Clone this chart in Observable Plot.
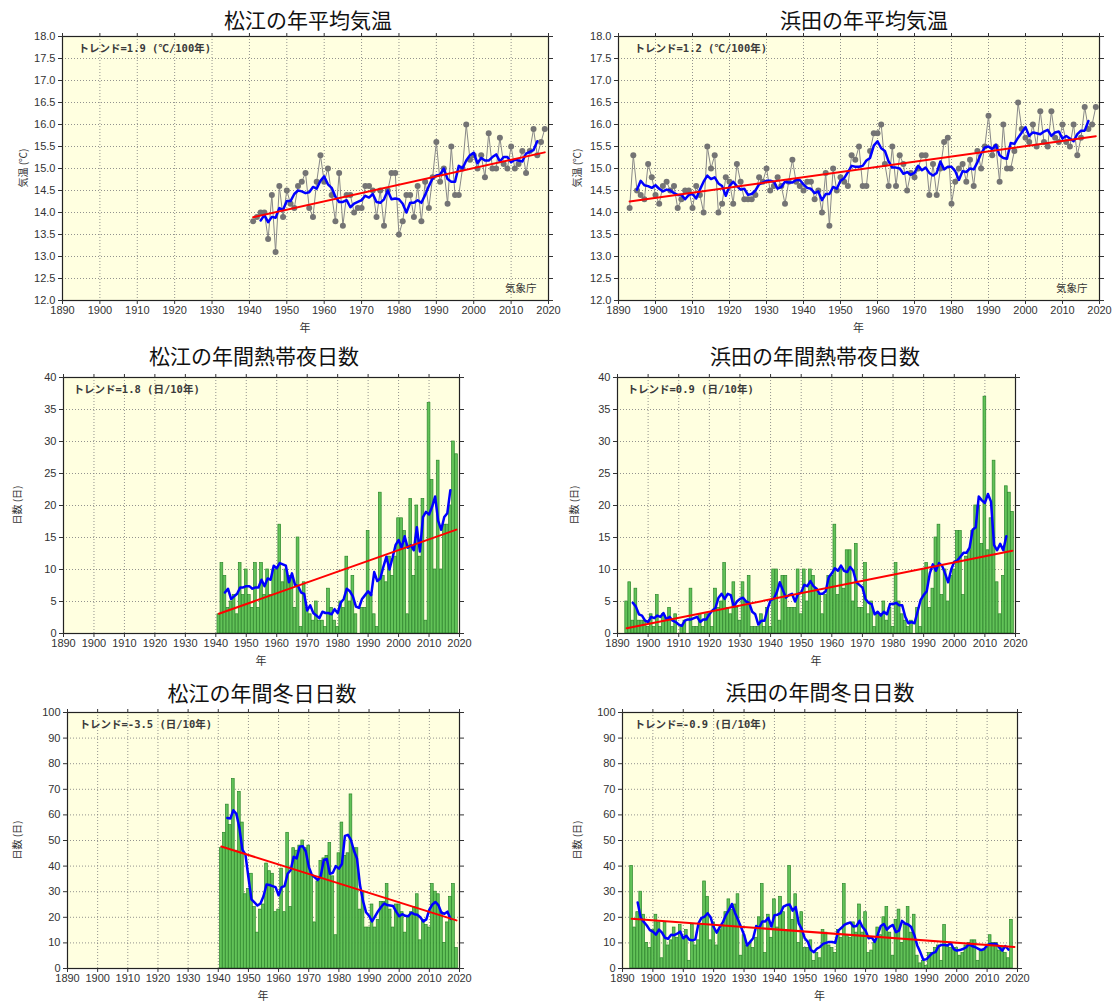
<!DOCTYPE html>
<html><head><meta charset="utf-8">
<script src="https://cdn.jsdelivr.net/npm/d3@7"></script>
<script src="https://cdn.jsdelivr.net/npm/@observablehq/plot@0.6"></script>
<style>
html,body{margin:0;padding:0;background:#fff}
#root{position:relative;width:1113px;height:1005px;overflow:hidden;font-family:"Liberation Sans",Arial,sans-serif}
.title{position:absolute;font-family:"Noto Sans CJK JP",sans-serif;font-size:21px;color:#111;white-space:nowrap;transform:translate(-50%,-50%)}
.xl{position:absolute;font-family:"Noto Sans CJK JP",sans-serif;font-size:11px;color:#333;transform:translate(-50%,-50%)}
.yl{position:absolute;font-family:"Noto Sans CJK JP",sans-serif;font-size:10px;color:#333;white-space:nowrap;transform:translate(-50%,-50%) rotate(-90deg)}
.panel{position:absolute}
</style></head><body><div id="root"></div>
<script>
// ---- axis ticks ----
const xTicks = [1890,1900,1910,1920,1930,1940,1950,1960,1970,1980,1990,2000,2010,2020];
const tempTicks = [12.0,12.5,13.0,13.5,14.0,14.5,15.0,15.5,16.0,16.5,17.0,17.5,18.0];
const nightTicks = [0,5,10,15,20,25,30,35,40];
const winterTicks = [0,10,20,30,40,50,60,70,80,90,100];

// ---- 松江 年平均気温 (1941-2019) ----
const matsueStart = 1941;
const matsueTemp = [
  13.8,13.9,14.0,14.0,13.4,14.4,13.1,14.6,13.9,
  14.5,14.2,14.1,14.6,14.7,14.9,14.1,13.9,14.7,15.3,
  14.7,15.0,14.4,13.8,14.9,13.7,14.4,14.4,14.0,14.1,
  14.1,14.6,14.6,14.5,13.9,14.5,13.7,14.5,14.9,14.9,
  13.5,13.8,14.4,14.4,13.9,14.6,13.8,14.7,14.1,14.8,
  15.6,14.7,15.0,14.2,15.5,14.4,14.4,15.0,16.0,15.2,
  15.3,15.0,15.3,14.8,15.8,15.0,15.0,15.7,15.1,15.0,
  15.5,15.0,15.1,15.4,14.9,15.4,15.9,15.3,15.6,15.9
];
// ---- 浜田 年平均気温 (1893-2019) ----
const hamadaStart = 1893;
const hamadaTemp = [
  14.1,15.3,14.5,14.4,14.3,15.1,14.8,
  14.4,14.2,14.6,14.7,14.5,14.6,14.1,14.3,14.5,14.5,
  14.1,14.6,14.4,14.0,15.5,15.0,15.3,14.0,14.2,14.8,
  14.7,14.2,15.1,14.7,14.3,14.3,14.3,14.4,14.8,14.7,
  15.0,14.5,14.6,14.8,14.6,14.2,14.7,15.2,14.7,14.6,
  14.5,14.7,14.7,14.3,14.5,14.0,14.9,13.7,15.0,14.5,
  14.8,14.7,14.6,15.3,15.2,15.5,14.6,14.6,15.4,15.8,
  15.8,16.0,15.1,14.6,15.5,14.6,15.3,15.1,14.5,14.9,
  14.8,15.0,15.3,15.3,14.4,15.1,14.4,15.0,15.6,15.7,
  14.2,14.7,15.0,15.1,14.7,15.2,14.6,15.4,15.0,15.5,
  16.2,15.3,15.5,14.7,16.0,15.0,15.0,15.4,16.5,15.9,
  15.7,15.6,16.0,15.5,16.3,15.6,15.5,16.3,15.7,15.6,
  16.0,15.6,15.5,16.0,15.3,15.7,16.4,15.9,16.0,16.4
];
// ---- 松江 年間熱帯夜日数 (1941-2019) ----
const matsueNights = [
  3,11,9,4,5,6,3,11,6,
  10,6,4,11,4,11,6,10,6,10,
  10,17,8,10,9,9,4,15,1,8,
  4,3,2,5,2,2,1,7,4,2,
  1,5,4,12,5,9,3,0,4,4,
  16,6,3,1,22,9,8,12,9,12,
  18,18,16,3,21,9,20,12,21,2,
  36,24,10,27,10,17,17,20,30,28
];
// ---- 浜田 年間熱帯夜日数 (1893-2019) ----
const hamadaNights = [
  5,8,2,7,2,2,2,
  1,3,1,6,1,3,2,4,1,3,
  0,1,2,0,7,1,1,3,1,3,
  3,1,7,4,5,11,4,3,8,4,
  2,8,5,9,1,1,1,3,1,4,
  1,10,10,2,9,9,4,4,4,10,
  3,10,5,10,9,7,6,3,6,9,
  9,17,6,10,7,13,13,5,14,4,
  4,11,3,5,1,3,3,5,2,4,
  1,11,5,3,2,1,2,0,4,1,
  10,11,4,7,15,17,6,10,5,9,
  10,16,16,6,12,13,16,20,20,14,
  37,13,18,27,8,3,9,23,22,19
];
// ---- 松江 年間冬日日数 (1941-2019) ----
const matsueWinter = [
  47,53,64,56,74,46,69,57,29,
  31,37,24,14,23,25,41,38,37,22,
  23,39,22,53,24,47,46,48,50,47,
  48,36,18,34,42,43,44,49,36,13,
  45,57,44,45,68,47,47,23,30,16,
  16,25,16,19,26,26,33,23,16,25,
  25,22,14,20,22,24,29,11,19,17,
  16,33,30,29,22,10,18,28,33,8
];
// ---- 浜田 年間冬日日数 (1893-2019) ----
const hamadaWinter = [
  40,16,22,30,21,10,8,
  15,21,18,4,18,9,11,16,12,17,
  12,15,3,17,9,11,17,34,28,11,
  18,9,15,17,22,27,23,25,29,5,
  13,9,10,8,12,20,33,6,21,12,
  27,16,28,22,15,40,19,29,10,22,
  8,8,11,3,6,4,15,14,9,8,
  6,15,12,33,13,12,18,14,25,14,
  22,6,7,10,16,13,20,24,14,5,
  19,23,10,17,24,14,21,5,2,3,
  1,6,6,8,9,3,17,9,8,8,
  8,5,6,9,10,11,11,3,7,7,
  8,13,10,10,7,8,6,4,19,0
];

const titles = ["松江の年平均気温","浜田の年平均気温","松江の年間熱帯夜日数","浜田の年間熱帯夜日数","松江の年間冬日日数","浜田の年間冬日日数"];
const trends = ["トレンド=1.9 (℃/100年)","トレンド=1.2 (℃/100年)","トレンド=1.8 (日/10年)","トレンド=0.9 (日/10年)","トレンド=-3.5 (日/10年)","トレンド=-0.9 (日/10年)"];

function rowsOf(start, values){ return values.map((v,i)=>({year:start+i, value:v})); }

const root = document.getElementById("root");
function addDiv(cls, text, x, y){
  const d = document.createElement("div"); d.className = cls; d.textContent = text;
  d.style.left = x+"px"; d.style.top = y+"px"; root.appendChild(d);
}

function panel(cfg){
  const rows = rowsOf(cfg.start, cfg.values);
  const ml = 60, mr = 8, mt = 8, mb = 30;
  const [px0, px1, py0, py1] = cfg.box;
  const grid = {stroke:"#808080", strokeOpacity:0.85, strokeDasharray:"1,2"};
  const marks = [
    Plot.frame({fill:"#ffffe0", stroke:null}),
    Plot.ruleX(xTicks.slice(1,-1), grid),
    Plot.ruleY(cfg.yTicks.slice(1,-1), grid)
  ];
  if (cfg.kind === "bar"){
    marks.push(Plot.rect(rows, {x1:d=>d.year-0.5, x2:d=>d.year+0.5, y1:0, y2:"value",
      fill:"#62c258", stroke:"#2b862b", strokeWidth:0.7, insetLeft:0.15, insetRight:0.15}));
  } else {
    marks.push(Plot.line(rows, {x:"year", y:"value", stroke:"#888", strokeWidth:1}));
    marks.push(Plot.dot(rows, {x:"year", y:"value", r:3, fill:"#747474"}));
  }
  marks.push(Plot.lineY(rows, Plot.windowY({k:5, strict:true}, {x:"year", y:"value", stroke:"#0000ff", strokeWidth:2.5})));
  marks.push(Plot.linearRegressionY(rows, {x:"year", y:"value", stroke:"#ff0000", strokeWidth:2, ci:0}));
  marks.push(Plot.frame({stroke:"#222", strokeWidth:1.2}));
  marks.push(Plot.axisX({ticks:xTicks, tickFormat:d=>String(d), tickSize:4, tickPadding:2, label:null}));
  marks.push(Plot.axisX({anchor:"top", ticks:xTicks, tickFormat:()=>"", tickSize:4, label:null}));
  marks.push(Plot.axisY({ticks:cfg.yTicks, tickFormat:cfg.yFormat, tickSize:4, tickPadding:3, label:null}));
  marks.push(Plot.axisY({anchor:"right", ticks:cfg.yTicks, tickFormat:()=>"", tickSize:4, label:null}));
  marks.push(Plot.text([cfg.trend], {frameAnchor:"top-left", dx:cfg.tdx, dy:12, text:d=>d,
    textAnchor:"start", lineAnchor:"middle", fontSize:10.5, fontWeight:"bold",
    fontFamily:"DejaVu Sans Mono, Noto Sans CJK JP, monospace", fill:"#3a3a3a"}));
  if (cfg.jma) marks.push(Plot.text(["気象庁"], {frameAnchor:"bottom-right", dx:-12, dy:-12, text:d=>d,
    textAnchor:"end", lineAnchor:"middle", fontSize:10.5, fontFamily:"Noto Sans CJK JP", fill:"#333"}));
  const svg = Plot.plot({
    width: px1-px0+ml+mr, height: py1-py0+mt+mb,
    marginLeft: ml, marginRight: mr, marginTop: mt, marginBottom: mb,
    style: {background:"transparent", fontFamily:"Liberation Sans, Arial, sans-serif", fontSize:"11px", color:"#333", overflow:"visible"},
    x: {domain:[1890,2020], label:null},
    y: {domain:cfg.yDomain, label:null},
    marks
  });
  const wrap = document.createElement("div");
  wrap.className = "panel";
  wrap.style.left = (px0-ml)+"px"; wrap.style.top = (py0-mt)+"px";
  wrap.appendChild(svg);
  root.appendChild(wrap);
  addDiv("title", cfg.title, cfg.tpos[0], cfg.tpos[1]);
  addDiv("xl", "年", (px0+px1)/2, py1+27);
  addDiv("yl", cfg.ylabel, cfg.ylx, (py0+py1)/2);
}

const f1 = d => d.toFixed(1), f0 = d => String(d);
panel({title:titles[0], tpos:[308,19], start:matsueStart, values:matsueTemp, kind:"temp", box:[62,548,36,300],
  yDomain:[12,18], yTicks:tempTicks, yFormat:f1, trend:trends[0], tdx:16, jma:true, ylabel:"気温 (℃)", ylx:22});
panel({title:titles[1], tpos:[864,19], start:hamadaStart, values:hamadaTemp, kind:"temp", box:[618,1099,36,300],
  yDomain:[12,18], yTicks:tempTicks, yFormat:f1, trend:trends[1], tdx:16, jma:true, ylabel:"気温 (℃)", ylx:576});
panel({title:titles[2], tpos:[254,355], start:matsueStart, values:matsueNights, kind:"bar", box:[63,459,377,633],
  yDomain:[0,40], yTicks:nightTicks, yFormat:f0, trend:trends[2], tdx:10, ylabel:"日数 (日)", ylx:16});
panel({title:titles[3], tpos:[815,355], start:hamadaStart, values:hamadaNights, kind:"bar", box:[617,1015,377,633],
  yDomain:[0,40], yTicks:nightTicks, yFormat:f0, trend:trends[3], tdx:10, ylabel:"日数 (日)", ylx:573});
panel({title:titles[4], tpos:[262,692], start:matsueStart, values:matsueWinter, kind:"bar", box:[67,459,712,968],
  yDomain:[0,100], yTicks:winterTicks, yFormat:f0, trend:trends[4], tdx:12, ylabel:"日数 (日)", ylx:16});
panel({title:titles[5], tpos:[820,691], start:hamadaStart, values:hamadaWinter, kind:"bar", box:[622,1017,712,968],
  yDomain:[0,100], yTicks:winterTicks, yFormat:f0, trend:trends[5], tdx:12, ylabel:"日数 (日)", ylx:576});
</script>
</body></html>
